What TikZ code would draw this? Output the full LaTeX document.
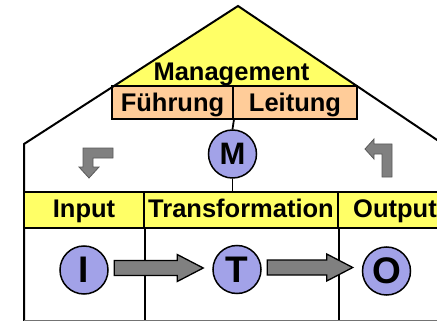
\documentclass[tikz,border=0pt]{standalone}
\usepackage{fontspec}
\setmainfont{Liberation Sans}
\usetikzlibrary{calc}

\definecolor{roofyellow}{RGB}{255,255,102}
\definecolor{boxorange}{RGB}{255,204,153}
\definecolor{discblue}{RGB}{162,162,232}
\definecolor{arrowgray}{RGB}{128,128,128}

% block arrow from node #1 to node #2, sitting slightly above the disc centres
\newcommand\blockarrow[2]{%
  \draw[block] let \p1=($(#1.east)+(5.5,-2)$), \p2=($(#2.west)+(-9,-2)$) in
    (\x1,\y1-7.5pt) -- (\x2-26pt,\y1-7.5pt) -- (\x2-26pt,\y1-13.5pt) -- (\x2,\y1)
    -- (\x2-26pt,\y1+13.5pt) -- (\x2-26pt,\y1+7.5pt) -- (\x1,\y1+7.5pt) -- cycle;}

\begin{document}
\begin{tikzpicture}[x=1pt,y=-1pt,
  wall/.style={line width=2pt},
  cellline/.style={line width=2pt},
  bigfont/.style={font=\fontsize{25.5}{25.5}\selectfont\bfseries},
  orangebox/.style={draw, line width=1.8pt, fill=boxorange, bigfont,
    minimum width=121pt, minimum height=33pt, inner sep=0pt,
    text height=25pt, text depth=6pt},
  bandcell/.style={draw, line width=2pt, fill=roofyellow, bigfont,
    minimum height=36pt, inner sep=0pt, text height=20pt, text depth=6pt},
  disc/.style={circle, draw, line width=1.5pt, fill=discblue, minimum size=48pt,
    inner sep=0pt, font=\fontsize{37}{37}\selectfont\bfseries},
  bent/.style={fill=arrowgray, draw=black!65, line width=0.8pt, line join=miter},
  block/.style={fill=arrowgray, draw=black, line width=1.3pt, line join=miter}]

\useasboundingbox (0,0) rectangle (437,321);
\clip (0,0) rectangle (437,321);

% roof outline points
\coordinate (apex) at (238,6);
\coordinate (eaveL) at (24,144);
\coordinate (eaveR) at (452,150);

% yellow gable with the management title
\fill[roofyellow] (apex) -- (113,86) -- (358,86) -- cycle;
\node[bigfont, anchor=base, inner sep=0pt] (mgmt) at (231.5,81) {Management};

% Führung / Leitung boxes
\node[orangebox, minimum width=121pt] (fuehrung) at (172.5,102.5) {Führung};
\node[orangebox, minimum width=124pt] (leitung) at (295,102.5) {Leitung};

% roof lines and walls
\draw[wall] (24,330) -- (eaveL) -- (apex) -- (eaveR) -- (452,330);

% Input / Transformation / Output band
\node[bandcell, minimum width=120pt] (input) at (84,210) {Input};
\node[bandcell, minimum width=194pt] (trans) at (241,210) {Transformation};
\node[bandcell, minimum width=114pt] (output) at (395,210) {Output};

% cell dividers below the band
\draw[cellline] (input.south east) -- ++(0,100);
\draw[cellline] (trans.south east) -- ++(0,100);
\draw[line width=1pt, black!55] (24,320.5) -- (452,320.5);

% management disc and its links
\node[disc, font=\fontsize{31}{31}\selectfont\bfseries] (M) at (232.5,154) {M};
\draw[line width=1.8pt] (fuehrung.south east) -- (M.north);
\draw[line width=1.8pt] (M.south) -- (M.south |- trans.north);

% process discs
\node[disc] (I) at (84,270) {I};
\node[disc] (T) at (237,269.5) {T};
\node[disc] (O) at (386.5,271) {O};

\blockarrow{I}{T}
\blockarrow{T}{O}

% small bent arrows under the roof
\draw[bent] (113,148) -- (113,158) -- (93,158) -- (93,167) -- (99,167) -- (89,178)
  -- (79,167) -- (83,167) -- (83,148) -- cycle;
\draw[bent] (382,177) -- (392,177) -- (392,144) -- (374,144) -- (374,139) -- (365,149)
  -- (374,159) -- (374,154) -- (382,154) -- cycle;

\end{tikzpicture}
\end{document}
